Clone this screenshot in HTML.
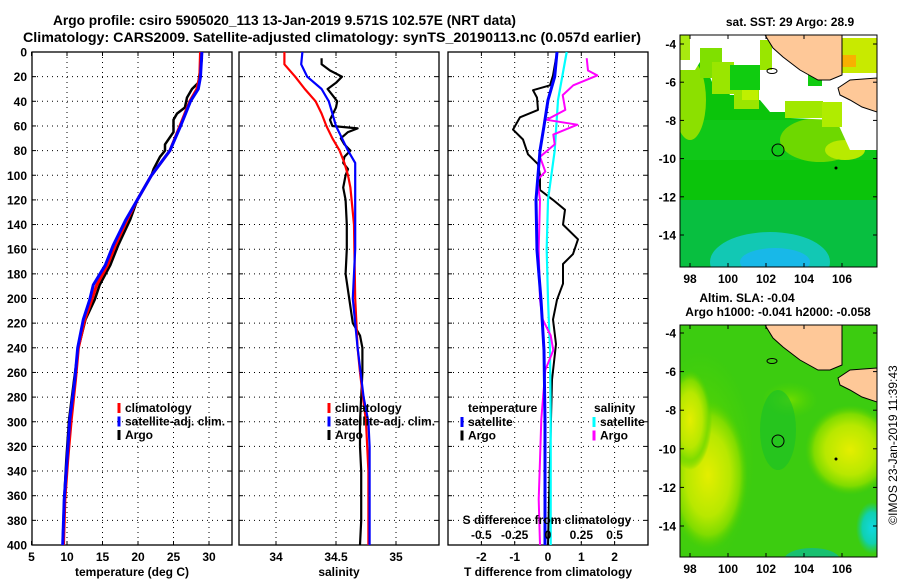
<!DOCTYPE html>
<html><head><meta charset="utf-8">
<style>
html,body{margin:0;padding:0;background:#fff;}
svg{display:block;font-family:"Liberation Sans",Arial,sans-serif;font-weight:bold;}
text{font-size:12px;fill:#000;}
</style></head>
<body>
<svg id="fig" width="900" height="580" viewBox="0 0 900 580" xmlns="http://www.w3.org/2000/svg">
<text x="53" y="25" textLength="463" lengthAdjust="spacingAndGlyphs" style="font-size:13.5px">Argo profile: csiro 5905020_113 13-Jan-2019 9.571S 102.57E (NRT data)</text>
<text x="23" y="42" textLength="618" lengthAdjust="spacingAndGlyphs" style="font-size:13.5px">Climatology: CARS2009. Satellite-adjusted climatology: synTS_20190113.nc (0.057d earlier)</text>

<!-- top map -->
<g>
<text x="790" y="26" text-anchor="middle">sat. SST: 29 Argo: 28.9</text>
<clipPath id="c1"><rect x="680" y="35" width="197" height="232"/></clipPath>
<g clip-path="url(#c1)">
<rect x="680" y="35" width="197" height="232" fill="#0bc40b"/>
<rect x="680" y="120" width="197" height="40" fill="#10c818"/>
<rect x="680" y="200" width="197" height="67" fill="#08bf40"/>
<ellipse cx="770" cy="262" rx="60" ry="30" fill="#12c8b4"/>
<ellipse cx="775" cy="262" rx="35" ry="14" fill="#18b8e8"/>
<ellipse cx="690" cy="100" rx="16" ry="40" fill="#8ce000"/>
<ellipse cx="820" cy="140" rx="40" ry="22" fill="#6ed800"/>
<ellipse cx="845" cy="150" rx="20" ry="10" fill="#b8ea00"/>
<path d="M680,35 L877,35 L877,150 L850,150 L840,128 L835,120 L790,118 L785,112 L770,112 L760,100 L750,100 L740,95 L730,95 L725,85 L712,82 L705,65 L700,62 L695,70 L680,70 Z" fill="#fff"/>
<rect x="680" y="35" width="10" height="25" fill="#a8ea10"/>
<rect x="700" y="48" width="22" height="30" fill="#80e000"/>
<rect x="712" y="62" width="22" height="32" fill="#9ae600"/>
<rect x="734" y="82" width="25" height="27" fill="#9ae600"/>
<rect x="742" y="85" width="16" height="15" fill="#c0f000"/>
<rect x="760" y="40" width="12" height="30" fill="#9ae600"/>
<rect x="785" y="101" width="38" height="17" fill="#a0e800"/>
<rect x="822" y="102" width="20" height="25" fill="#b0ec00"/>
<rect x="842" y="38" width="35" height="35" fill="#c8ea00"/>
<rect x="842" y="55" width="14" height="12" fill="#f8b000"/>
<rect x="730" y="65" width="30" height="25" fill="#10cc10"/>
<rect x="808" y="73" width="14" height="13" fill="#10cc10"/>
<path d="M765,35 L842,35 L842,75 L830,80 L818,80 L800,70 L783,57 L773,48 Z" fill="#fec898" stroke="#000" stroke-width="1"/>
<path d="M838,88 L850,80 L877,78 L877,112 L862,107 L850,100 L840,95 Z" fill="#fec898" stroke="#000" stroke-width="1"/>
<ellipse cx="772" cy="71" rx="5" ry="2.5" fill="none" stroke="#000"/>
<circle cx="778" cy="150" r="6" fill="none" stroke="#000"/>
<circle cx="836" cy="168" r="1.5" fill="#000"/>
</g>
<rect x="680" y="35" width="197" height="232" fill="none" stroke="#000"/>
</g>

<!-- bottom map -->
<g>
<text x="747" y="302" text-anchor="middle">Altim. SLA: -0.04</text>
<text x="778" y="316" text-anchor="middle">Argo h1000: -0.041 h2000: -0.058</text>
<clipPath id="c2"><rect x="680" y="325" width="197" height="232"/></clipPath>
<defs>
<radialGradient id="y1"><stop offset="0" stop-color="#e4ee00"/><stop offset="0.55" stop-color="#b8e800"/><stop offset="0.8" stop-color="#80dc00"/><stop offset="1" stop-color="#50d000" stop-opacity="0"/></radialGradient>
<radialGradient id="cy"><stop offset="0" stop-color="#10d8e0"/><stop offset="0.6" stop-color="#10d0b0"/><stop offset="1" stop-color="#10d090" stop-opacity="0"/></radialGradient>
<radialGradient id="lg"><stop offset="0" stop-color="#70dc00"/><stop offset="1" stop-color="#50d400" stop-opacity="0"/></radialGradient>
</defs>
<g clip-path="url(#c2)">
<rect x="680" y="325" width="197" height="232" fill="#3ccc10"/>
<ellipse cx="700" cy="460" rx="55" ry="110" fill="url(#lg)"/>
<ellipse cx="708" cy="475" rx="40" ry="75" fill="url(#y1)"/>
<ellipse cx="690" cy="420" rx="22" ry="50" fill="url(#y1)"/>
<ellipse cx="850" cy="450" rx="45" ry="45" fill="url(#y1)"/>
<ellipse cx="790" cy="400" rx="28" ry="18" fill="url(#lg)"/>
<ellipse cx="872" cy="528" rx="16" ry="26" fill="url(#cy)"/>
<ellipse cx="812" cy="560" rx="28" ry="12" fill="#18c070"/>
<ellipse cx="778" cy="430" rx="18" ry="40" fill="#18c028" opacity="0.6"/>
<path d="M765,325 L842,325 L842,365 L830,370 L818,370 L800,360 L783,347 L773,338 Z" fill="#fec898" stroke="#000"/>
<path d="M838,378 L850,370 L877,368 L877,402 L862,397 L850,390 L840,385 Z" fill="#fec898" stroke="#000"/>
<ellipse cx="772" cy="361" rx="5" ry="2.5" fill="none" stroke="#000"/>
<circle cx="778" cy="441" r="6" fill="none" stroke="#000"/>
<circle cx="836" cy="459" r="1.5" fill="#000"/>
</g>
<rect x="680" y="325" width="197" height="232" fill="none" stroke="#000"/>
</g>
<text transform="translate(897,445) rotate(-90)" text-anchor="middle" style="font-weight:normal;font-size:12px">©IMOS 23-Jan-2019 11:39:43</text>
<g id="plots"></g>
</svg>
<script>
// ---- data ----
const tClimDepth = [0,20,30,40,50,60,80,100,120,136,157,173,189,201,217,240,266,298,331,363,400];
const tClimVal   = [28.8,28.7,28.3,27.3,26.6,25.9,24.5,21.9,19.9,18.5,16.8,15.7,14.2,13.5,12.5,11.6,11.2,10.6,10.1,9.7,9.5];
const tSatVal    = [29.0,28.8,28.5,27.4,26.7,26.0,24.5,21.9,19.9,18.3,16.5,15.4,13.7,13.2,12.3,11.5,11.1,10.4,10.0,9.6,9.4];
const tArgoDepth = [5,25,30,37,45,50,55,65,75,80,85,95,100,120,136,157,173,189,201,217,240,266,298,331,363,400];
const tArgoVal   = [29.0,28.5,27.6,26.9,26.6,25.5,25.0,25.0,23.8,23.8,23.1,22.2,21.9,19.9,18.9,17.2,16.1,14.6,13.9,12.6,11.6,11.0,10.3,9.9,9.6,9.4];

const sClimDepth = [0,10,20,30,40,50,60,70,80,90,100,110,120,140,200,240,260,300,340,400];
const sClimVal   = [34.07,34.07,34.16,34.24,34.33,34.38,34.42,34.47,34.53,34.57,34.60,34.62,34.63,34.65,34.66,34.68,34.70,34.75,34.77,34.77];
const sSatDepth  = [0,10,20,30,40,50,60,80,90,100,120,140,160,200,240,280,300,320,400];
const sSatVal    = [34.22,34.21,34.26,34.38,34.44,34.47,34.50,34.60,34.66,34.66,34.66,34.66,34.66,34.64,34.68,34.73,34.77,34.78,34.78];
const sArgoDepth = [5,10,15,20,25,30,35,40,45,55,60,62,65,70,75,80,85,90,95,100,110,120,140,160,180,200,220,230,240,260,280,300,320,340,360,380,400];
const sArgoVal   = [34.38,34.38,34.45,34.55,34.50,34.43,34.47,34.51,34.50,34.45,34.47,34.68,34.60,34.54,34.57,34.62,34.57,34.56,34.60,34.58,34.56,34.58,34.59,34.59,34.58,34.61,34.64,34.70,34.72,34.72,34.71,34.70,34.70,34.71,34.71,34.71,34.70];

const dTSatDepth  = [0,20,39,60,80,100,120,161,201,242,300,400];
const dTSatVal    = [0.27,0.20,0.0,-0.12,-0.24,-0.30,-0.36,-0.33,-0.21,-0.12,-0.09,-0.09];
const dTArgoDepth = [5,19,27,31,37,47,53,63,71,83,91,100,112,120,128,140,152,164,172,188,201,217,237,266,298,331,363,400];
const dTArgoVal   = [0.24,0.15,0.06,-0.45,-0.33,-0.30,-0.84,-1.05,-0.75,-0.60,-0.30,-0.24,-0.24,0.15,0.51,0.45,0.90,0.75,0.45,0.45,0.27,0.15,0.24,0.12,0.09,0.06,0.03,0.0];
const dSSatDepth  = [0,39,80,120,160,201,242,300,400];
const dSSatVal    = [0.14,0.075,0.05,0.0,-0.01,0.0,0.015,0.02,0.02];
const dSArgoDepth = [5,15,19,27,35,47,55,59,67,75,85,97,104,120,160,201,217,230,242,258,298,331,363,400];
const dSArgoVal   = [0.29,0.30,0.37,0.19,0.11,0.13,-0.01,0.22,0.04,0.05,-0.06,-0.02,-0.08,-0.06,-0.07,-0.06,-0.04,0.02,0.04,-0.02,-0.05,-0.06,-0.07,-0.06];

const depthTicks = [0,20,40,60,80,100,120,140,160,180,200,220,240,260,280,300,320,340,360,380,400];
const tTicks = [5,10,15,20,25,30];
const sTicks = [34,34.5,35];
const dTTicks = [-2,-1,0,1,2];
const dSTicks = [-0.5,-0.25,0,0.25,0.5];
const dSTickLabels = ["-0.5","-0.25","0","0.25","0.5"];

// ---- scales ----
const Y0=52, Y1=545;
const yD = d => Y0 + d*(Y1-Y0)/400;
const xT = t => 31.5 + (t-5)*7.1;
const xS = s => 276 + (s-34)*120;
const xDT = v => 548 + v*33.3;
const xDS = v => 548 + v*133.3;

const NS="http://www.w3.org/2000/svg";
const root=document.getElementById('plots');
function mk(tag,attrs,parent){const e=document.createElementNS(NS,tag);for(const k in attrs)e.setAttribute(k,attrs[k]);(parent||root).appendChild(e);return e;}

function panel(name,x0,x1,vt,xf,labels,showY,xlabel){
  const g=mk('g',{});
  
  
  depthTicks.forEach(d=>{
    if(d>0&&d<400){const l=mk('line',{x1:x0,x2:x1,y1:yD(d),y2:yD(d),stroke:'#000','stroke-dasharray':'1 4'},g);
    
    }
    mk('line',{x1:x0,x2:x0+4,y1:yD(d),y2:yD(d),stroke:'#000'},g);
    mk('line',{x1:x1-4,x2:x1,y1:yD(d),y2:yD(d),stroke:'#000'},g);
    if(showY){const t=mk('text',{x:x0-5,y:yD(d)+4.5,'text-anchor':'end'},g);t.textContent=d;
    
    }
  });
  vt.forEach((v,i)=>{
    const x=xf(v);
    if(x>x0+2&&x<x1-2){const l=mk('line',{x1:x,x2:x,y1:Y0,y2:Y1,stroke:'#000','stroke-dasharray':'1 4'},g);
    
    }
    mk('line',{x1:x,x2:x,y1:Y1,y2:Y1-4,stroke:'#000'},g);
    mk('line',{x1:x,x2:x,y1:Y0,y2:Y0+4,stroke:'#000'},g);
    const t=mk('text',{x:x,y:561,'text-anchor':'middle'},g);t.textContent=labels[i];
    
    
  });
  mk('rect',{x:x0,y:Y0,width:x1-x0,height:Y1-Y0,fill:'none',stroke:'#000','stroke-width':1.3},g);
  const xl=mk('text',{x:(x0+x1)/2,y:576,'text-anchor':'middle'},g);xl.textContent=xlabel;
  
  
  return g;
}
function series(name,g,ds,vs,xf,color,w){
  const p=mk('polyline',{points:ds.map((d,i)=>xf(vs[i]).toFixed(1)+','+yD(d).toFixed(1)).join(' '),fill:'none',stroke:color,'stroke-width':w,'stroke-linejoin':'round'},g);
  
  
}
function legend(g,x,y,items){
  items.forEach((it,i)=>{
    const yy=y+i*13.5;
    mk('line',{x1:x,x2:x,y1:yy-9,y2:yy+1,stroke:it[1],'stroke-width':3},g);
    const t=mk('text',{x:x+6,y:yy},g);t.textContent=it[0];
    
    
  });
}

const g1=panel('temperature-panel',32,232,tTicks,xT,tTicks.map(String),true,'temperature (deg C)');
series('temp-argo-line',g1,tArgoDepth,tArgoVal,xT,'#000',2.5);
series('temp-climatology-line',g1,tClimDepth,tClimVal,xT,'#f00',3);
series('temp-satellite-line',g1,tClimDepth,tSatVal,xT,'#00f',3);
legend(g1,119,412,[['climatology','#f00'],['satellite-adj. clim.','#00f'],['Argo','#000']]);

const g2=panel('salinity-panel',239,439,sTicks,xS,['34','34.5','35'],false,'salinity');
series('sal-argo-line',g2,sArgoDepth,sArgoVal,xS,'#000',2.2);
series('sal-climatology-line',g2,sClimDepth,sClimVal,xS,'#f00',2.2);
series('sal-satellite-line',g2,sSatDepth,sSatVal,xS,'#00f',2.2);
legend(g2,329,412,[['climatology','#f00'],['satellite-adj. clim.','#00f'],['Argo','#000']]);

const g3=panel('difference-panel',448,648,dTTicks,xDT,dTTicks.map(String),false,'T difference from climatology');
series('dt-argo-line',g3,dTArgoDepth,dTArgoVal,xDT,'#000',2);
series('ds-satellite-line',g3,dSSatDepth,dSSatVal,xDS,'#0ff',2.2);
series('ds-argo-line',g3,dSArgoDepth,dSArgoVal,xDS,'#f0f',2);
series('dt-satellite-line',g3,dTSatDepth,dTSatVal,xDT,'#00f',3);
legend(g3,462,426,[['satellite','#00f'],['Argo','#000']]);
legend(g3,594,426,[['satellite','#0ff'],['Argo','#f0f']]);
let th=mk('text',{x:468,y:412},g3);th.textContent='temperature';


let sh=mk('text',{x:594,y:412},g3);sh.textContent='salinity';


let st=mk('text',{x:547,y:524,'text-anchor':'middle'},g3);st.textContent='S difference from climatology';


dSTicks.forEach((v,i)=>{
  const t=mk('text',{x:xDS(v),y:539,'text-anchor':'middle'},g3);t.textContent=dSTickLabels[i];
  
  
});

// map axes
function mapAxes(name,top,bot,latY0){
  const g=mk('g',{});
  
  
  [-4,-6,-8,-10,-12,-14].forEach(la=>{
    const y=latY0+(-4-la)*((top===35)?19.1:19.3);
    mk('line',{x1:680,x2:684,y1:y,y2:y,stroke:'#000'},g);
    mk('line',{x1:873,x2:877,y1:y,y2:y,stroke:'#000'},g);
    const t=mk('text',{x:676,y:y+4.5,'text-anchor':'end'},g);t.textContent=la;
    
    
  });
  [98,100,102,104,106].forEach(lo=>{
    const x=690+(lo-98)*19;
    mk('line',{x1:x,x2:x,y1:bot,y2:bot-4,stroke:'#000'},g);
    mk('line',{x1:x,x2:x,y1:top,y2:top+4,stroke:'#000'},g);
    const t=mk('text',{x:x,y:bot+16,'text-anchor':'middle'},g);t.textContent=lo;
    
    
  });
}
mapAxes('sst-map-axes',35,267,44);
mapAxes('sla-map-axes',325,557,333);
</script>
</body></html>
